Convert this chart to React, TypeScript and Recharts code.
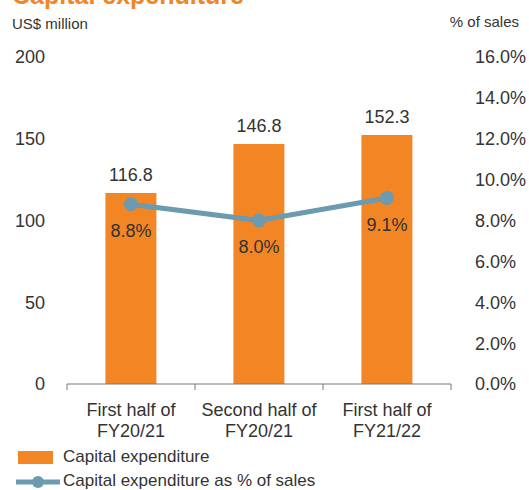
import React from 'react';
import { ComposedChart, Bar, Line, XAxis, YAxis, LabelList } from 'recharts';

const categories = ['First half of\nFY20/21', 'Second half of\nFY20/21', 'First half of\nFY21/22'];
const capex = [116.8, 146.8, 152.3];
const capexPct = [8.8, 8.0, 9.1];
const leftTicks = [0, 50, 100, 150, 200];
const rightTicks = [0, 2, 4, 6, 8, 10, 12, 14, 16];

const ORANGE = '#F28524';
const BLUE = '#6C9AAE';
const TEXT = '#333333';
const FONT = '"Liberation Sans", Arial, sans-serif';

// plot area: 67..451 wide, so each category band is 128px
const HALF_BAND = 64;

const data = categories.map((name, i) => ({ name, capex: capex[i], pct: capexPct[i] }));

const CategoryTick = (props: any) => {
  const { x, y, payload, index } = props;
  const lines = String(payload.value).split('\n');
  return (
    <g>
      <line x1={x - HALF_BAND} y1={y} x2={x - HALF_BAND} y2={y + 6} stroke="#777" />
      {index === categories.length - 1 && (
        <line x1={x + HALF_BAND} y1={y} x2={x + HALF_BAND} y2={y + 6} stroke="#777" />
      )}
      <text x={x} y={y} textAnchor="middle" fill={TEXT} fontSize={18} fontFamily={FONT}>
        {lines.map((l: string, i: number) => (
          <tspan key={i} x={x} dy={i === 0 ? 32 : 21}>{l}</tspan>
        ))}
      </text>
    </g>
  );
};

const App: React.FC = () => {
  return (
    <div style={{ position: 'absolute', left: 0, top: 0, width: 529, height: 490, overflow: 'hidden', background: '#fff', fontFamily: FONT }}>
      <div style={{ position: 'absolute', left: 12, top: -19, fontSize: 25, fontWeight: 'bold', color: ORANGE, whiteSpace: 'nowrap' }}>Capital expenditure</div>
      <div style={{ position: 'absolute', left: 12, top: 15, fontSize: 15, color: TEXT }}>US$ million</div>
      <div style={{ position: 'absolute', right: 10, top: 13, fontSize: 15, color: TEXT }}>% of sales</div>

      <ComposedChart width={529} height={490} data={data} margin={{ top: 57, right: 0, bottom: 0, left: 0 }} barCategoryGap="30%">
        <XAxis
          dataKey="name"
          stroke="#777"
          tickLine={false}
          tickSize={0}
          tickMargin={0}
          height={106}
          interval={0}
          tick={<CategoryTick />}
        />
        <YAxis
          yAxisId="left"
          width={67}
          domain={[0, 200]}
          ticks={leftTicks}
          axisLine={false}
          tickLine={false}
          tickSize={0}
          tickMargin={22}
          tick={{ fill: TEXT, fontSize: 18, fontFamily: FONT }}
        />
        <YAxis
          yAxisId="right"
          orientation="right"
          width={78}
          domain={[0, 16]}
          ticks={rightTicks}
          axisLine={false}
          tickLine={false}
          tickSize={0}
          tickMargin={24}
          tickFormatter={(v: number) => v.toFixed(1) + '%'}
          tick={{ fill: TEXT, fontSize: 18, fontFamily: FONT, textAnchor: 'start' }}
        />
        <Bar yAxisId="left" dataKey="capex" fill={ORANGE} isAnimationActive={false}>
          <LabelList dataKey="capex" position="top" offset={12} fill={TEXT} fontSize={18} fontFamily={FONT} formatter={(v: any) => Number(v).toFixed(1)} />
        </Bar>
        <Line
          yAxisId="right"
          dataKey="pct"
          stroke={BLUE}
          strokeWidth={5}
          dot={{ r: 7, fill: BLUE, stroke: BLUE, strokeWidth: 0 }}
          isAnimationActive={false}
        >
          <LabelList dataKey="pct" position="bottom" offset={20} fill={TEXT} fontSize={18} fontFamily={FONT} formatter={(v: any) => Number(v).toFixed(1) + '%'} />
        </Line>
      </ComposedChart>

      <div style={{ position: 'absolute', left: 18, top: 451, width: 35, height: 13, background: ORANGE }} />
      <div style={{ position: 'absolute', left: 63, top: 447, fontSize: 17, color: TEXT }}>Capital expenditure</div>
      <svg style={{ position: 'absolute', left: 14, top: 474 }} width={48} height={16}>
        <line x1={2} y1={8} x2={46} y2={8} stroke={BLUE} strokeWidth={5} />
        <circle cx={24} cy={8} r={6} fill={BLUE} />
      </svg>
      <div style={{ position: 'absolute', left: 63, top: 471, fontSize: 17, color: TEXT }}>Capital expenditure as % of sales</div>
    </div>
  );
};

export default App;
